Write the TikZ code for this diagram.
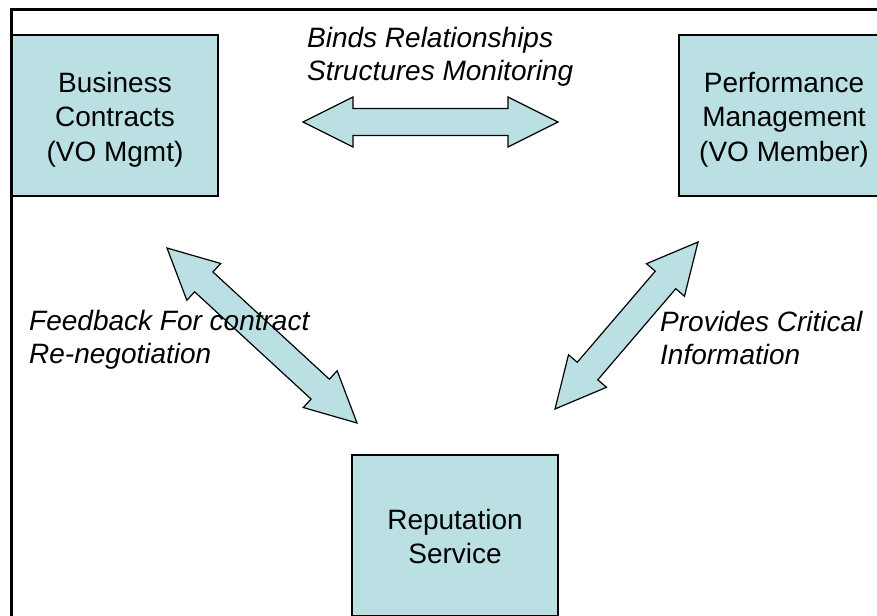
\documentclass[tikz,border=0pt]{standalone}
\usepackage{fontspec}
\setmainfont{Liberation Sans}
\usetikzlibrary{calc}
\definecolor{boxfill}{RGB}{186,224,227}
\tikzset{
  box/.style={draw=black, line width=1.3pt, fill=boxfill, minimum width=206pt, minimum height=161pt, inner sep=0pt},
  boxtext/.style={align=center, inner sep=0pt, font=\fontsize{28}{34.5}\selectfont},
  lbl/.style={anchor=west, align=left, inner sep=0pt, font=\fontsize{28}{33}\selectfont\itshape},
  fatarrow/.style={draw=black, line width=1.2pt, fill=boxfill, line join=miter},
  frame/.style={line width=3pt}
}
\newcommand\fatarrow[2]{%
  \draw[fatarrow] (#1)
    -- ($(#1)!50pt!(#2)!25pt!90:(#2)$)
    -- ($(#1)!50pt!(#2)!13.5pt!90:(#2)$)
    -- ($(#2)!50pt!(#1)!13.5pt!-90:(#1)$)
    -- ($(#2)!50pt!(#1)!25pt!-90:(#1)$)
    -- (#2)
    -- ($(#2)!50pt!(#1)!25pt!90:(#1)$)
    -- ($(#2)!50pt!(#1)!13.5pt!90:(#1)$)
    -- ($(#1)!50pt!(#2)!13.5pt!-90:(#2)$)
    -- ($(#1)!50pt!(#2)!25pt!-90:(#2)$)
    -- cycle;}
\begin{document}
\begin{tikzpicture}[x=1pt,y=-1pt]
\useasboundingbox (0,0) rectangle (877,615);
\begin{scope}
\clip (0,0) rectangle (877,615);
\draw[frame] (11,630) -- (11,10) -- (890,10);
\node[box] (bc) at (115,115.5) {};
\node[box] (pm) at (782,115.5) {};
\node[box] (rs) at (455,535.5) {};
\end{scope}
\node[boxtext] (bct) at ($(bc.center)+(0,4)$) {Business\\Contracts\\(VO Mgmt)};
\node[boxtext] (pmt) at ($(pm.center)+(2,4)$) {Performance\\Management\\(VO Member)};
\node[boxtext] (rst) at ($(rs.center)+(0,1)$) {Reputation\\Service};
% arrow ends
\coordinate (h1) at (303,122);
\coordinate (h2) at (558,122);
\coordinate (l1) at (167,248);
\coordinate (l2) at (357,423);
\coordinate (r1) at (698,242);
\coordinate (r2) at (555,409);
\fatarrow{h1}{h2}
\fatarrow{l1}{l2}
\fatarrow{r1}{r2}
% labels
\node[lbl] (binds) at (307,57) {Binds Relationships\\Structures Monitoring};
\node[lbl] (feed) at (29,340) {Feedback For contract\\Re-negotiation};
\node[lbl] (prov) at (660,338) {Provides Critical\\Information};
\end{tikzpicture}
\end{document}
